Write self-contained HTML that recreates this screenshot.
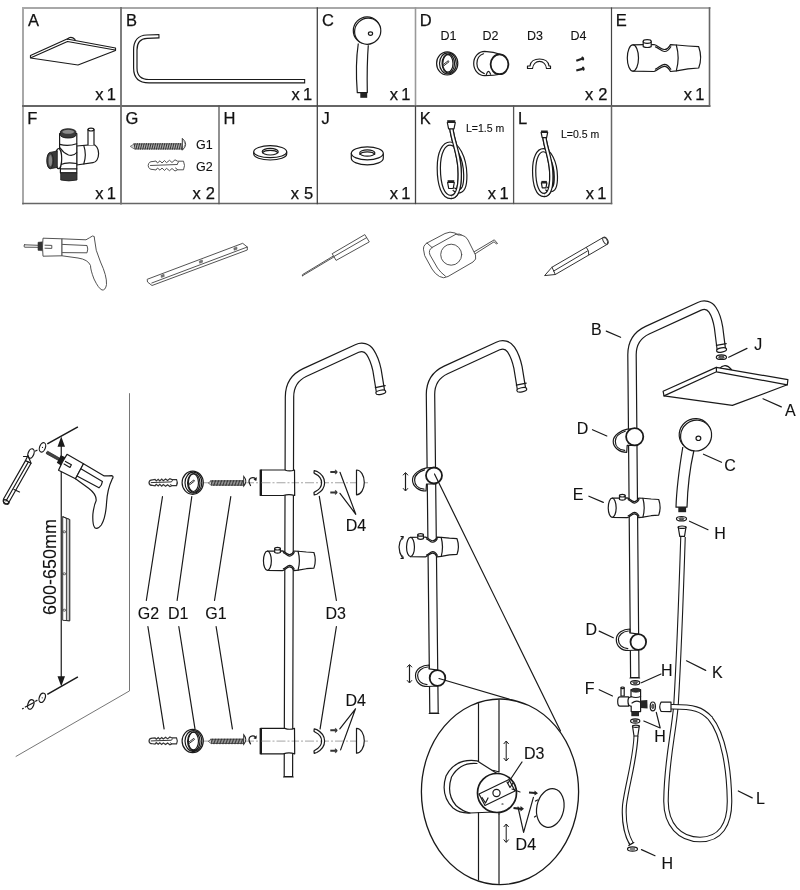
<!DOCTYPE html>
<html><head><meta charset="utf-8">
<style>
html,body{margin:0;padding:0;background:#fff;width:800px;height:890px;overflow:hidden}
svg{display:block;position:absolute;left:0;top:0;will-change:transform}
text{font-family:"Liberation Sans",sans-serif;fill:#111;stroke:#111;stroke-width:0.12}
.lb text{stroke-width:0.25}
.sm text{stroke-width:0.1}
.k{fill:none;stroke:#1a1a1a;stroke-width:1.2;stroke-linejoin:round;stroke-linecap:round}
.w{fill:#fff;stroke:#1a1a1a;stroke-width:1.2;stroke-linejoin:round}
.g{fill:none;stroke:#4a4a4a;stroke-width:0.95;stroke-linejoin:round;stroke-linecap:round}
.gw{fill:#fff;stroke:#4a4a4a;stroke-width:0.95;stroke-linejoin:round}
.lb{font-size:16.5px}
.sm{font-size:12.5px}
.md{font-size:16px}
#slider *,#hoseK .w{vector-effect:non-scaling-stroke}
.tb{fill:none;stroke:#1a1a1a;stroke-width:9.6;stroke-linejoin:round}
.tw{fill:none;stroke:#fff;stroke-width:7.2;stroke-linejoin:round}
.dash{fill:none;stroke:#9a9a9a;stroke-width:0.9;stroke-dasharray:9,2,2,2}
</style></head>
<body>
<svg width="800" height="890" viewBox="0 0 800 890">
<!-- ===== GRID ===== -->
<g id="grid" stroke-linecap="square">
  <line x1="23" y1="8" x2="709.5" y2="8" stroke="#a8a8a8" stroke-width="2"/>
  <line x1="23" y1="8" x2="23" y2="203.5" stroke="#a8a8a8" stroke-width="2"/>
  <line x1="23" y1="106" x2="709.5" y2="106" stroke="#666" stroke-width="1.8"/>
  <line x1="23" y1="203.5" x2="611.5" y2="203.5" stroke="#666" stroke-width="1.6"/>
  <line x1="121" y1="8" x2="121" y2="203.5" stroke="#707070" stroke-width="1.8"/>
  <line x1="317.3" y1="8" x2="317.3" y2="203.5" stroke="#444" stroke-width="1.3"/>
  <line x1="415.5" y1="8" x2="415.5" y2="106" stroke="#999" stroke-width="1.6"/>
  <line x1="415.5" y1="106" x2="415.5" y2="203.5" stroke="#444" stroke-width="1.3"/>
  <line x1="611.5" y1="8" x2="611.5" y2="106" stroke="#444" stroke-width="1.2"/>
  <line x1="611.5" y1="106" x2="611.5" y2="203.5" stroke="#666" stroke-width="1.5"/>
  <line x1="709.5" y1="8" x2="709.5" y2="106" stroke="#666" stroke-width="1.6"/>
  <line x1="219" y1="106" x2="219" y2="203.5" stroke="#555" stroke-width="1.3"/>
  <line x1="513.6" y1="106" x2="513.6" y2="203.5" stroke="#555" stroke-width="1.3"/>
</g>
<!-- cell letters -->
<g class="lb">
  <text x="28" y="25.6">A</text>
  <text x="126" y="25.6">B</text>
  <text x="322" y="25.8">C</text>
  <text x="419.8" y="25.6">D</text>
  <text x="615.7" y="25.6">E</text>
  <text x="27.2" y="123.9">F</text>
  <text x="125.5" y="124">G</text>
  <text x="223.5" y="124.2">H</text>
  <text x="321.5" y="124.2">J</text>
  <text x="419.7" y="123.8">K</text>
  <text x="518" y="124">L</text>
</g>
<g class="lb" text-anchor="end">
  <text x="103.4" y="100.0">x</text><text x="116.0" y="100.0">1</text>
  <text x="299.7" y="100.0">x</text><text x="312.3" y="100.0">1</text>
  <text x="397.9" y="100.0">x</text><text x="410.5" y="100.0">1</text>
  <text x="593.3" y="100.0">x</text><text x="607.5" y="100.0">2</text>
  <text x="691.9" y="100.0">x</text><text x="704.5" y="100.0">1</text>
  <text x="103.4" y="198.5">x</text><text x="116.0" y="198.5">1</text>
  <text x="200.8" y="198.5">x</text><text x="215.0" y="198.5">2</text>
  <text x="299.1" y="198.5">x</text><text x="313.3" y="198.5">5</text>
  <text x="397.9" y="198.5">x</text><text x="410.5" y="198.5">1</text>
  <text x="496.0" y="198.5">x</text><text x="508.6" y="198.5">1</text>
  <text x="593.9" y="198.5">x</text><text x="606.5" y="198.5">1</text>
</g>
<g class="sm">
  <text x="440.5" y="40">D1</text>
  <text x="482.5" y="40">D2</text>
  <text x="527" y="40">D3</text>
  <text x="570.5" y="40">D4</text>
  <text x="196" y="149">G1</text>
  <text x="196" y="171">G2</text>
</g>
<g style="font-size:10.5px">
  <text x="466" y="132">L=1.5 m</text>
  <text x="561" y="138">L=0.5 m</text>
</g>

<!-- ===== A head (cell) ===== -->
<g>
  <path class="w" d="M30.5,55.5 L67,39 L115.5,48 L115.5,50.5 L78,65 L30.5,58 Z"/>
  <path class="k" d="M31.5,57.5 L67.5,41.5 L115,50"/>
  <path class="k" d="M67.5,39 Q71,35.5 75,39.5"/>
</g>

<!-- ===== B rod ===== -->
<path d="M159.5,36.2 L147,36.7 Q135.3,37.2 135.3,50 L135.3,68 Q135.3,81.2 149,81.2 L305.2,81.2" fill="none" stroke="#1a1a1a" stroke-width="4.6"/>
<path d="M158.4,36.25 L147,36.7 Q135.3,37.2 135.3,50 L135.3,68 Q135.3,81.2 149,81.2 L304.1,81.2" fill="none" stroke="#fff" stroke-width="2.2"/>

<!-- ===== C hand shower (cell) ===== -->
<g>
  <path class="w" d="M358.3,43.5 C355.8,60 356.3,80 357.3,92.6 L367.3,92.6 C367,76 367.3,58 368.3,45.2"/>
  <rect x="360.3" y="92.6" width="6.9" height="5.2" fill="#222"/>
  <ellipse class="w" cx="366.6" cy="30.1" rx="13.6" ry="13" transform="rotate(-45 366.6 30.1)"/>
  <ellipse class="w" cx="367.7" cy="31.2" rx="13.4" ry="12.8" transform="rotate(-45 367.7 31.2)"/>
  <ellipse class="k" cx="370.5" cy="33.6" rx="2.1" ry="1.8"/>
</g>

<!-- ===== D parts ===== -->
<g>
  <!-- D1 -->
  <ellipse class="w" cx="447.2" cy="63.4" rx="10.6" ry="11.6" stroke-width="1.4"/>
  <ellipse class="k" cx="447.9" cy="63.4" rx="8.4" ry="10.5"/>
  <ellipse class="k" cx="448.3" cy="63.6" rx="6.2" ry="9.4"/>
  <ellipse class="k" cx="447.9" cy="63.4" rx="5.1" ry="8.8"/>
  <path d="M443.2,64.6 L448.3,60.7 L449,61.8 L443.9,65.7 Z" fill="#fff" stroke="#1a1a1a" stroke-width="0.9"/>
  <!-- D2 -->
  <path class="w" d="M484.7,51.4 C492,51.6 497,53 502,54.8 L502,74 C497,75 490,75.6 484.7,75.6 A11,12.1 0 0 1 484.7,51.4 Z"/>
  <path class="k" d="M486.3,74.6 Q488.3,68.4 490.6,74.2"/>
  <path class="k" d="M483.5,53.8 C479,55.3 476.9,59.3 476.9,63.6 C476.9,68 479.2,71.8 484.3,73.6"/>
  <ellipse cx="499.5" cy="64.3" rx="8.9" ry="9.9" fill="#fff" stroke="#1a1a1a" stroke-width="1.8"/>
  <!-- D3 -->
  <path class="w" d="M527.5,68.5 L527.5,66 L530,66 C530.5,61.5 534.5,59 539.5,59 C544.5,59 548.5,61.5 549,66 L550.5,66 L550.5,68.5 L546.5,68.5 C546,64.2 543,61.4 539.5,61.4 C536,61.4 533,64.2 532.5,68.5 Z"/>
  <!-- D4 -->
  <path d="M576.3,60.8 L582,58.8 M576.3,70.5 L582.5,68.9" stroke="#222" stroke-width="2.2" fill="none"/>
  <ellipse cx="582.8" cy="58.5" rx="1.3" ry="2.1" transform="rotate(-20 582.8 58.5)" fill="#222"/>
  <ellipse cx="583.3" cy="68.6" rx="1.3" ry="2.1" transform="rotate(-15 583.3 68.6)" fill="#222"/>
</g>

<!-- ===== E slider (cell) ===== -->
<g id="slider">
  <path class="w" d="M633,44.9 L643.5,44.7 L654,44.5 C657.5,45.2 660.5,49.2 664.2,49.5 C667.3,49.7 669,47.3 670.5,44.6 L676.5,45 L688,46 L698.7,46.7 Q702.6,57.5 698.7,68 L688,68.8 L676.5,70.8 L670.5,71.5 C669,68.8 667.3,66.3 664.2,66.4 C660.5,66.6 657.5,70.6 654,71.5 L633,71.2 Z"/>
  <ellipse class="w" cx="632.9" cy="58" rx="5.6" ry="13.1"/>
  <path class="k" d="M676.3,45 Q680,58 676.3,70.8"/>
  <path class="k" d="M655.5,46.9 C658.5,47.8 661,51.3 664.3,51.5 C667.3,51.6 669.3,49.3 670.8,46.7 M655.5,69.1 C658.5,68.2 661,64.5 664.3,64.3 C667.3,64.3 669.3,66.7 670.8,69.3"/>
  <path class="w" d="M643.2,41.5 L643.2,46.6 Q647.2,48.4 651.2,46.6 L651.2,41.5 Z"/>
  <ellipse class="w" cx="647.2" cy="41.5" rx="4" ry="1.8"/>
</g>

<!-- ===== F diverter (cell) ===== -->
<g>
  <path class="w" d="M76.6,146 L93,144.6 A5.6,9 0 0 1 93,162.6 L76.6,165 Z"/>
  <path class="k" d="M83.8,145.6 Q86.8,154.5 83.8,164"/>
  <path class="w" d="M88,145 L88,129.6 L94,129.6 L94,145"/>
  <ellipse class="w" cx="91" cy="129.6" rx="3" ry="1.4"/>
  <path class="w" d="M59.6,133.5 L76.8,133.5 L76.8,172.8 L60.4,172.8 L60.4,165 L59.6,150 Z"/>
  <path class="k" d="M59.7,144.4 Q68,146.8 76.7,143.8 M60.2,148 Q63.5,153 68.5,155 Q73.5,156.5 76.7,152.5 M61,164.5 Q66,162 76.7,163.5 M60.6,168.8 L76.8,168.8"/>
  <ellipse class="w" cx="58.6" cy="158.6" rx="3.1" ry="10.1"/>
  <path d="M57.3,150.9 L50.2,152.4 A3.4,8.2 0 0 0 50.2,168.8 L57.3,167.4 Z" fill="#3a3a3a" stroke="#1a1a1a" stroke-width="0.8"/>
  <ellipse cx="50.2" cy="160.6" rx="3.1" ry="7.8" fill="#4a4a4a" stroke="#1a1a1a" stroke-width="0.8"/>
  <ellipse cx="50.4" cy="160.6" rx="1.7" ry="5.6" fill="#8a8a8a"/>
  <path d="M60.4,131.8 A7.7,3 0 0 1 75.9,131.8 L75.9,135 A7.7,3 0 0 1 60.4,135 Z" fill="#3a3a3a" stroke="#1a1a1a" stroke-width="0.9"/>
  <ellipse cx="68.2" cy="131.8" rx="6" ry="2" fill="#8a8a8a"/>
  <path d="M60.7,172.8 L77,172.8 L77,180 Q68.8,181.8 60.7,180 Z" fill="#3a3a3a" stroke="#1a1a1a" stroke-width="0.8"/>
</g>

<!-- ===== G screw & anchor ===== -->
<g>
  <path d="M130.2,146.4 L134,144 L182.3,143.8 L182.3,149 L134,148.8 Z" fill="#d0d0d0" stroke="#555" stroke-width="0.7"/>
  <path d="M134.00,143.1 L135.30,149.7 M135.78,143.1 L137.08,149.7 M137.56,143.1 L138.86,149.7 M139.34,143.1 L140.64,149.7 M141.12,143.1 L142.42,149.7 M142.90,143.1 L144.20,149.7 M144.68,143.1 L145.98,149.7 M146.46,143.1 L147.76,149.7 M148.24,143.1 L149.54,149.7 M150.02,143.1 L151.32,149.7 M151.80,143.1 L153.10,149.7 M153.58,143.1 L154.88,149.7 M155.36,143.1 L156.66,149.7 M157.14,143.1 L158.44,149.7 M158.92,143.1 L160.22,149.7 M160.70,143.1 L162.00,149.7 M162.48,143.1 L163.78,149.7 M164.26,143.1 L165.56,149.7 M166.04,143.1 L167.34,149.7 M167.82,143.1 L169.12,149.7 M169.60,143.1 L170.90,149.7 M171.38,143.1 L172.68,149.7 M173.16,143.1 L174.46,149.7 M174.94,143.1 L176.24,149.7 M176.72,143.1 L178.02,149.7 M178.50,143.1 L179.80,149.7 M180.28,143.1 L181.58,149.7 " stroke="#2a2a2a" stroke-width="0.95" fill="none"/>
  <path d="M182.3,138.4 Q189,144.2 182.3,150.2 Z" fill="#fff" stroke="#333" stroke-width="1"/>
  <path d="M183.8,141 Q186.3,144.2 183.8,147.5" stroke="#666" stroke-width="0.6" fill="none"/>
  <path class="gw" stroke-width="0.9" d="M148.2,165.5 Q148.5,161.3 153,161.5 L156,161 L157.5,163 L160,160.8 L162,163 L164.5,160.5 L166.5,162.7 L169.5,160.3 L172,162.5 L175,159.8 L177.5,161.2 L183.5,161.2 Q185.5,165.5 183.5,169.8 L177.5,169.8 L175,171 L172,168.5 L169.5,170.7 L166.5,168.3 L164.5,170.5 L162,168 L160,170.2 L157.5,168 L156,170 L153,169.5 Q148.5,169.7 148.2,165.5 Z"/>
  <path class="g" d="M150.5,165.5 L177,164.5 M177,164.5 L178.5,162 M175.5,168 L177.5,169.5"/>
</g>

<!-- ===== H & J washers ===== -->
<g>
 <g transform="translate(0.2,1.4)">
  <path class="w" d="M253.5,150.3 L253.5,152.6 A16.5,6 0 0 0 286.5,152.6 L286.5,150.3"/>
  <ellipse class="w" cx="270" cy="150.3" rx="16.5" ry="6"/>
  <ellipse class="w" cx="270" cy="150.3" rx="8" ry="3.3"/>
  <path class="k" d="M262.4,151.3 A8,3.3 0 0 1 277.6,151.3"/>
  </g>
 <g transform="translate(0,1.8)">
  <path class="w" d="M351.3,151.5 L351.3,156.5 A16,6.5 0 0 0 383.3,156.5 L383.3,151.5"/>
  <ellipse class="w" cx="367.3" cy="151.5" rx="16" ry="6.5"/>
  <ellipse class="w" cx="367.3" cy="151.2" rx="7.6" ry="3.2"/>
  <path class="k" d="M359.9,152.6 A7.6,3.2 0 0 1 374.7,152.6"/>
</g>
</g>

<!-- ===== K & L hoses ===== -->
<g id="hoseK">
  <path id="hk" d="M451.4,128.5 C452.5,140 458.5,152 459.5,168 C460.5,183 458.5,196.5 451.5,197 C443,197.5 438.8,185 438.8,168 C438.8,152 444,143.6 450,143.6 C457,143.6 465,157 465.3,175 C465.5,187 463,191.5 457.5,191.5 L453.5,189" fill="none" stroke="#1a1a1a" stroke-width="4.4" vector-effect="non-scaling-stroke"/>
  <path d="M451.4,128.5 C452.5,140 458.5,152 459.5,168 C460.5,183 458.5,196.5 451.5,197 C443,197.5 438.8,185 438.8,168 C438.8,152 444,143.6 450,143.6 C457,143.6 465,157 465.3,175 C465.5,187 463,191.5 457.5,191.5 L453.5,189" fill="none" stroke="#fff" stroke-width="2" vector-effect="non-scaling-stroke"/>
  <path d="M451.4,128.5 C452.5,140 458.5,152 459.5,168 C460.5,183 458.5,196.5 451.5,197" fill="none" stroke="#1a1a1a" stroke-width="4.4" vector-effect="non-scaling-stroke"/>
  <path d="M451.4,128.5 C452.5,140 458.5,152 459.5,168 C460.5,183 458.5,196.5 451.5,197" fill="none" stroke="#fff" stroke-width="2" vector-effect="non-scaling-stroke"/>
  <path class="w" d="M447.3,122.5 L455.3,122.5 L454,128.8 L448.6,128.8 Z"/>
  <rect x="447.2" y="120.2" width="8.1" height="2.6" fill="#222"/>
  <path class="w" d="M447.6,182.5 L454.3,182.5 L453.2,188.5 L448.7,188.5 Z"/>
  <rect x="447.6" y="180.2" width="6.7" height="2.5" fill="#222"/>
</g>
<use href="#hoseK" transform="translate(544.4,130.5) scale(0.82,0.84) translate(-451.3,-120.2)"/>

<!-- ===== TOOLS ROW ===== -->
<g>
  <!-- drill -->
  <path class="g" d="M24.5,244.8 L38.5,245.3 L38.5,247.3 L24.5,247.2 Q23.3,246 24.5,244.8 Z"/>
  <path d="M38,242.3 L43,241.8 L43,250.8 L38,250.3 Z" fill="#333" stroke="#333" stroke-width="0.6"/>
  <path class="gw" d="M43,238.2 Q42,247 43,256.2 L62,255.8 L62,238.8 Z"/>
  <path class="g" d="M45,245.2 L51.8,245.4 L51.8,248.4 L45,248.2"/>
  <path class="gw" d="M62,238.8 L86,239.8 Q90,237.5 92.5,236 Q95,235.5 94.5,239 Q95,250 100.5,262 Q107,276 106.5,284.5 Q105.5,290.5 102,290 Q98.5,288.5 94,279 Q90.5,270 90.5,265.5 Q88,259.5 78,258 L62,255.8 Z"/>
  <path class="g" d="M62.5,244.4 L87,245.5 Q88.5,249 87,252.8 L62.5,252.6"/>
  <!-- level -->
  <path class="gw" d="M147.2,279.3 L242.7,243.3 L247.3,247 L247.3,250 L152,285.5 L147.5,282 Z"/>
  <path class="g" d="M151.8,283 L247.3,247"/>
  <path d="M161,275.3 L164,274.2 L164.3,276.5 L161.3,277.5 Z M199.3,261 L202.3,259.9 L202.6,262.2 L199.6,263.3 Z M233.8,248 L236.8,246.9 L237.1,249.2 L234.1,250.3 Z" fill="#777" stroke="#555" stroke-width="0.5"/>
  <!-- screwdriver -->
  <path class="g" d="M302.4,275.8 L333.5,257.2 M302.4,275.8 Q301.8,274.5 303,274.3 L333,256.2"/>
  <path class="gw" d="M332.2,253.7 L364.8,234.6 L369.3,241.9 L336.1,260.4 Z"/>
  <path class="g" d="M333.8,256.6 L366.7,237.6"/>
  <!-- tape -->
  <path class="g" d="M473.5,252.2 L494.3,239.8 L497.5,243.5 L496.3,243.8 L494,241.8 L474.5,254.2"/>
  <path class="gw" d="M424,252 Q422,246 427,243 L445,233.5 Q450,231 455,233 L458,235 L461.5,235 Q466,236 468,240 L475.5,255 Q477,259.5 473,262 L448,276.5 Q443.5,279 439.5,276.5 Q435,274 432,269 L426.5,259 Q424,255.5 424,252 Z"/>
  <path class="g" d="M432,247.5 Q428,250 430,255 L437.5,268 Q440.5,272.5 445.5,276.3 M432,247.5 L456,234.2 Q460,233.5 461.5,235 M427,243 L432,247.5"/>
  <circle class="g" cx="451.2" cy="254.7" r="10.5"/>
  <!-- pencil -->
  <g style="stroke:#333;stroke-width:1">
  <path class="gw" style="stroke:#333;stroke-width:1" d="M544.6,275.6 L552,267.2 L603.3,237.4 Q608,238 607.6,244.1 L555.3,274.5 Z"/>
  <path class="g" style="stroke:#333;stroke-width:1" d="M552,267.2 L555.3,274.5 M553.8,271 L587.5,251 M586.5,247.5 Q589.5,251 588.8,254.7"/>
  <ellipse class="g" style="stroke:#333;stroke-width:1" cx="605.5" cy="240.7" rx="2.2" ry="3.8" transform="rotate(-30 605.5 240.7)"/>
  </g>
</g>

<!-- ===== LEFT WALL SCENE ===== -->
<g>
  <path d="M129.5,393.2 L129.5,690.9 L15.7,756.6" fill="none" stroke="#666" stroke-width="0.9"/>
  <!-- marker lines -->
  <path d="M47.3,443.9 L77.9,426.9 M47.3,694.4 L77.9,676.9" stroke="#1a1a1a" stroke-width="1.6" fill="none"/>
  <!-- vertical dimension arrow -->
  <line x1="61.25" y1="445" x2="61.25" y2="678" stroke="#1a1a1a" stroke-width="1.2"/>
  <path d="M61.25,436.5 L57.5,446.8 L65,446.8 Z M61.25,686.5 L57.5,676.2 L65,676.2 Z" fill="#1a1a1a"/>
  <!-- holes top -->
  <ellipse class="k" cx="42.5" cy="447.4" rx="2.9" ry="4.9" transform="rotate(20 42.5 447.4)"/>
  <ellipse class="k" cx="31" cy="453.5" rx="2.9" ry="4.9" transform="rotate(20 31 453.5)"/>
  <path class="k" d="M35.5,451 L37,450.2"/>
  <circle cx="42.5" cy="447.4" r="0.6" fill="#222"/><circle cx="42.2" cy="697.8" r="0.6" fill="#222"/>
  <!-- holes bottom -->
  <ellipse class="k" cx="42.2" cy="697.8" rx="2.9" ry="4.9" transform="rotate(20 42.2 697.8)"/>
  <ellipse class="k" cx="30.8" cy="704.5" rx="2.9" ry="4.9" transform="rotate(20 30.8 704.5)"/>
  <path class="k" d="M35.5,701.2 L37,700.4 M22.5,708.8 L23.3,708.4 M25.3,707 L33.5,702.7"/>
  <!-- pencil on wall -->
  <path class="w" d="M25.5,460.6 L31,463.3 L8.5,503 Q6,505 4,503.5 Q2.5,501.5 3.5,499 Z"/>
  <path class="k" d="M28.3,462 L6,501"/>
  <path class="k" d="M14,489.5 L19.5,492"/>
  <path class="k" d="M25.5,460.6 L28,455.5 L31,463.3 M27,456.5 L23.5,456.5"/>
  <ellipse class="k" cx="6.2" cy="502" rx="3" ry="1.8" transform="rotate(30 6.2 502)"/>
  <!-- drill on wall (rotated) -->
  <g transform="translate(47,452.5) rotate(28) translate(-24.5,-246)">
    <path d="M24.5,244.6 L38.5,245 L38.5,247.6 L24.5,247.4 Q23.3,246 24.5,244.6 Z" fill="#444" stroke="#222" stroke-width="0.7"/>
    <path d="M38,242 L43,241.5 L43,251 L38,250.5 Z" fill="#1a1a1a"/>
    <path class="w" d="M43,238.2 Q42,247 43,256.2 L62,255.8 L62,238.8 Z"/>
    <path class="k" d="M45,245.2 L51.8,245.4 L51.8,248.4 L45,248.2"/>
    <path class="w" d="M62,238.8 L86,239.8 Q90,237.5 92.5,236 Q95,235.5 94.5,239 Q95,250 100.5,262 Q107,276 106.5,284.5 Q105.5,290.5 102,290 Q98.5,288.5 94,279 Q90.5,270 90.5,265.5 Q88,259.5 78,258 L62,255.8 Z"/>
    <path class="k" d="M62.5,244.4 L87,245.5 Q88.5,249 87,252.8 L62.5,252.6"/>
  </g>
  <!-- level on wall -->
  <path d="M62.7,516.6 L62.7,620.3 L69.7,620.8 L69.7,519.5 Z" fill="#fff" stroke="#1a1a1a" stroke-width="0.9"/>
  <path d="M66.4,518.4 L66.4,620.5 L69.7,620.8 L69.7,519.5 Z" fill="#c8c8c8" stroke="#1a1a1a" stroke-width="0.8"/>
  <path d="M62.7,516.6 L66.4,518.4" stroke="#1a1a1a" stroke-width="0.8"/>
  <ellipse cx="64.3" cy="531.8" rx="1.4" ry="1" fill="none" stroke="#333" stroke-width="0.8"/>
  <ellipse cx="64.3" cy="573.8" rx="1.4" ry="1" fill="none" stroke="#333" stroke-width="0.8"/>
  <ellipse cx="64.3" cy="610.2" rx="1.4" ry="1" fill="none" stroke="#333" stroke-width="0.8"/>
  <text transform="translate(56.2,615) rotate(-90)" style="font-size:18px">600-650mm</text>
</g>

<!-- ===== EXPLODED VIEW (rail 1) ===== -->
<g>
  <!-- rail 1 tube -->
  <path class="tb" d="M288.4,777 L289.5,397.0 Q289.5,379.5 304.9,372.4 L357.0,348.5 C362.0,346.2 367.0,347.5 370.0,352.0 C373.0,356.5 375.5,363.0 377.0,370.0 L380.6,392.0"/>
  <path class="tw" d="M288.4,776 L289.5,397.0 Q289.5,379.5 304.9,372.4 L357.0,348.5 C362.0,346.2 367.0,347.5 370.0,352.0 C373.0,356.5 375.5,363.0 377.0,370.0 L380.4,391.0"/>
  <path class="k" d="M283.6,777 L293.2,777"/>
  <path class="k" d="M375.3,387.6 L385.2,385.6"/>
  <ellipse class="w" cx="380.8" cy="392.3" rx="5" ry="2.1" transform="rotate(-11 380.8 392.3)"/>

  <!-- slider on rail 1 -->
  <use href="#slider" transform="translate(267.4,560.8) scale(0.707,0.733) translate(-632.9,-58)"/>

  <!-- dashed centerlines -->
  <path class="dash" d="M200,482.75 L368,482.75 M200,741.1 L368,741.1"/>
</g>
<g id="brk">
  <!-- G2 anchor -->
  <g transform="translate(149,482.6) scale(0.78,0.7) translate(-148.2,-165.5)">
    <path d="M148.2,165.5 Q148.5,161.3 153,161.5 L156,161 L157.5,163 L160,160.8 L162,163 L164.5,160.5 L166.5,162.7 L169.5,160.3 L172,162.5 L175,159.8 L177.5,161.2 L183.5,161.2 Q185.5,165.5 183.5,169.8 L177.5,169.8 L175,171 L172,168.5 L169.5,170.7 L166.5,168.3 L164.5,170.5 L162,168 L160,170.2 L157.5,168 L156,170 L153,169.5 Q148.5,169.7 148.2,165.5 Z" fill="#fff" stroke="#333" stroke-width="1.2" vector-effect="non-scaling-stroke"/>
    <path d="M150.5,165.5 L177,164.5 M177,164.5 L178.5,162 M175.5,168 L177.5,169.5" fill="none" stroke="#333" stroke-width="1" vector-effect="non-scaling-stroke"/>
  </g>
  <!-- D1 ring -->
  <g transform="translate(-254.5,419.3)">
    <ellipse class="w" cx="447.2" cy="63.4" rx="10.6" ry="11.6" stroke-width="1.4"/>
    <ellipse class="k" cx="447.9" cy="63.4" rx="8.4" ry="10.5"/>
    <ellipse class="k" cx="448.3" cy="63.6" rx="6.2" ry="9.4"/>
    <ellipse class="k" cx="447.9" cy="63.4" rx="5.1" ry="8.8"/>
    <path d="M443.2,64.6 L448.3,60.7 L449,61.8 L443.9,65.7 Z" fill="#fff" stroke="#1a1a1a" stroke-width="0.9"/>
  </g>
  <!-- G1 screw -->
  <g transform="translate(208.3,483) scale(0.68,0.85) translate(-130.2,-146.4)">
    <path d="M130.2,146.4 L134,144 L182.3,143.8 L182.3,149 L134,148.8 Z" fill="#d0d0d0" stroke="#444" stroke-width="1"/>
    <path d="M134.00,143.1 L135.60,149.7 M136.20,143.1 L137.80,149.7 M138.40,143.1 L140.00,149.7 M140.60,143.1 L142.20,149.7 M142.80,143.1 L144.40,149.7 M145.00,143.1 L146.60,149.7 M147.20,143.1 L148.80,149.7 M149.40,143.1 L151.00,149.7 M151.60,143.1 L153.20,149.7 M153.80,143.1 L155.40,149.7 M156.00,143.1 L157.60,149.7 M158.20,143.1 L159.80,149.7 M160.40,143.1 L162.00,149.7 M162.60,143.1 L164.20,149.7 M164.80,143.1 L166.40,149.7 M167.00,143.1 L168.60,149.7 M169.20,143.1 L170.80,149.7 M171.40,143.1 L173.00,149.7 M173.60,143.1 L175.20,149.7 M175.80,143.1 L177.40,149.7 M178.00,143.1 L179.60,149.7 M180.20,143.1 L181.80,149.7 " stroke="#2a2a2a" stroke-width="1.2" fill="none"/>
    <path d="M182.3,138.6 Q188.5,144.3 182.3,150 Z" fill="#fff" stroke="#222" stroke-width="1.4"/>
  </g>
  <!-- rotation arrow -->
  <path class="k" d="M250.5,485.5 Q247.5,480.5 250.5,478.2 Q253.5,476.5 255.8,479" stroke-width="1"/>
  <path d="M256.8,477 L256.3,481 L253.5,479.8 Z" fill="#1a1a1a"/>
  <!-- bracket block -->
  <path class="w" d="M260.8,470 L284.8,470 Q289.5,471.8 294.5,470 L294.7,495.5 Q289,493.7 283.3,495.5 L260.8,495.5 Z"/>
  <path d="M260.8,469.6 L260.8,495.9" stroke="#1a1a1a" stroke-width="2.4"/>
  <path class="dash" d="M261.5,482.75 L294,482.75"/>
  <!-- D3 clip -->
  <path class="w" stroke-width="1.3" d="M314.2,470.6 L316.8,471.3 Q324.6,475.5 324.6,482.75 Q324.6,490 316.8,494.2 L314.2,495 L314,492.6 L315.3,491.6 Q321.6,488.5 321.6,482.75 Q321.6,477 315.3,473.9 L314,472.9 Z"/>
  <!-- D4 screws -->
  <path d="M330.3,472 L335.5,472 M330.3,492.4 L335.5,492.4" stroke="#333" stroke-width="2"/>
  <path d="M335.3,469.9 Q339.2,472 335.3,474.1 Z M335.3,490.3 Q339.2,492.4 335.3,494.5 Z" fill="#333" stroke="#333" stroke-width="0.6"/>
  <!-- dome cap -->
  <path class="w" d="M356.5,470 A7.8,12.4 0 0 1 356.5,494.8 Z"/>
</g>
<use href="#brk" transform="translate(0,258.35)"/>
<!-- rail 1 tube segments above brackets are drawn; redraw tube visible between blocks handled by order -->
<g>
  <!-- leaders -->
  <path class="k" stroke-width="1" d="M162.5,496.5 L146.3,600.5 M147.9,626.5 L164.1,728.9 M191.8,496.5 L177.1,600.5 M178.8,626.5 L195,728.9 M230.8,496.5 L214.5,600.5 M216.1,626.5 L232.4,728.9 M319.3,496.3 L336.4,600.5 M336.4,626.5 L320.1,728.9"/>
  <path class="k" stroke-width="1" d="M340,472.3 L355.8,514.3 L340,493.3 M339.8,728.9 L355.5,708.8 L340.6,749.9"/>
  <text class="md" x="137.8" y="619">G2</text>
  <text class="md" x="168" y="619">D1</text>
  <text class="md" x="205.3" y="619">G1</text>
  <text class="md" x="325.5" y="619">D3</text>
  <text class="md" x="345.8" y="530.8">D4</text>
  <text class="md" x="345.5" y="706">D4</text>
</g>

<!-- ===== RAIL 2 ===== -->
<g>
  <path class="tb" d="M434,713.5 L430.5,394.5 Q430.5,377.0 445.9,369.9 L498.0,346.0 C503.0,343.7 508.0,345.0 511.0,349.5 C514.0,354.0 516.5,360.5 518.0,367.5 L521.6,389.5"/>
  <path class="tw" d="M434,712.5 L430.5,394.5 Q430.5,377.0 445.9,369.9 L498.0,346.0 C503.0,343.7 508.0,345.0 511.0,349.5 C514.0,354.0 516.5,360.5 518.0,367.5 L521.4,388.5"/>
  <path class="k" d="M429.2,713.5 L438.8,713.5"/>
  <path class="k" d="M516.3,385.1 L526.2,383.1"/>
  <ellipse class="w" cx="521.8" cy="389.8" rx="5" ry="2.1" transform="rotate(-11 521.8 389.8)"/>
  <use href="#slider" transform="translate(410.5,547) scale(0.707,0.733) translate(-632.9,-58)"/>
  <!-- holder upper (body down) -->
  <g transform="translate(434,475.5)">
<path class="w" d="M-7.5,-7.6 C-13,-6.6 -21.5,-2 -21.5,4.5 C-21.5,11 -15,15.5 -8,15.5 L-7.5,8.5 L2,8.5 L2,-8 Z"/>
    <path class="k" d="M-9.5,-5.6 C-15,-3.8 -19.4,-0.5 -19.4,4.5 C-19.4,9.8 -15.5,13.2 -10,13.6"/>
    <circle r="8" fill="#fff" stroke="#1a1a1a" stroke-width="1.8"/>
  </g>
  <!-- holder lower (body up) -->
  <g transform="translate(437.5,678)">
<path class="w" d="M-8.5,-13 C-15,-13 -22,-9 -22,-2.5 C-22,4 -17,8.5 -10,8.5 L0,8 L0,-8 L-8.5,-9.2 Z"/>
    <path class="k" d="M-10,-11 C-15.5,-10.5 -19.9,-7 -19.9,-2.5 C-19.9,2.5 -16,6.3 -10.5,6.6"/>
    <circle r="7.8" fill="#fff" stroke="#1a1a1a" stroke-width="1.8"/>
  </g>
  <!-- arrows -->
  <path class="k" d="M405.5,473.5 L405.5,490" stroke-width="1"/>
  <path d="M403,475.3 L405.5,472.5 L408,475.3 M403,488.2 L405.5,491 L408,488.2" fill="none" stroke="#1a1a1a" stroke-width="1"/>
  <path class="k" d="M409.5,665.5 L409.5,682" stroke-width="1"/>
  <path d="M407,667.3 L409.5,664.5 L412,667.3 M407,680.2 L409.5,683 L412,680.2" fill="none" stroke="#1a1a1a" stroke-width="1"/>
  <path class="k" stroke-width="1" d="M402.5,537 Q395.5,547 402.5,558"/>
  <path d="M400.5,536.5 L403.5,536.5 L402.5,539.5 M400.5,558.5 L403.5,558.5 L402.5,555.5" fill="none" stroke="#1a1a1a" stroke-width="1"/>
</g>

<!-- ===== MAGNIFIER ===== -->
<g>
  <path class="k" d="M434.5,474 L560.5,731 M439,678.5 L512,700" stroke-width="1.1"/>
  <ellipse cx="500" cy="791.8" rx="78.6" ry="92.8" fill="#fff" stroke="#1a1a1a" stroke-width="1.3"/>
  <clipPath id="mc"><ellipse cx="500" cy="791.8" rx="78" ry="92.2"/></clipPath>
  <g clip-path="url(#mc)">
    <path class="k" d="M478.5,690 L478.5,772 Q489,768 499,772 L499,690 M478.5,900 L478.5,814 M499,900 L499,814"/>
  </g>
  <!-- magnified holder -->
  <path class="w" d="M497,773.5 L477,760.8 Q455,758 446,776 Q440,795 453,808 Q460,813.5 470,813 L494,812 Z"/>
  <path class="k" d="M477,763.5 Q460,762 451.5,777 Q446,794 456,805.5 Q462,811 470,813"/>
  <circle cx="497" cy="793" r="19.5" fill="#fff" stroke="#1a1a1a" stroke-width="1.7"/>
  <path class="k" d="M478.5,814 L478.5,812.5 M499,812.8 L499,814"/>
  <!-- D3 inside -->
  <path class="k" d="M479,794 L509,779.5 L515,791 L485,805.5 Z" stroke-width="1.1"/>
  <circle class="k" cx="496.5" cy="793" r="3.6" stroke-width="1.1"/>
  <path class="k" d="M507,782 L510,787.5 L513,783 M482,797.5 L485.5,803 L488,798" stroke-width="0.9"/>
  <path class="k" d="M512,789 L520,792 M502,804 L503,804" stroke-width="0.9"/>
  <!-- D4 screws -->
  <path d="M529,792.5 L535,793 M513.5,808 L521,808.8" stroke="#222" stroke-width="2.2"/>
  <path d="M534.5,790.5 L538,793.2 L534.5,795.5 Z M520.5,806 L524,808.8 L520.5,811.5 Z" fill="#222"/>
  <!-- cap -->
  <ellipse class="w" cx="550.3" cy="808" rx="13.5" ry="19.5" transform="rotate(12 550.3 808)"/>
  <path class="k" d="M537.5,800 L535.5,801 M536,816 L534.5,817" stroke-width="0.9"/>
  <!-- arrows -->
  <path d="M506.2,741.5 L506.2,760.5 M503.7,744 L506.2,741 L508.7,744 M503.7,758 L506.2,761 L508.7,758 M506.2,824.5 L506.2,842 M503.7,827 L506.2,824 L508.7,827 M503.7,839.5 L506.2,842.5 L508.7,839.5" fill="none" stroke="#1a1a1a" stroke-width="1"/>
  <!-- leaders -->
  <path class="k" stroke-width="1" d="M522,762 L508,783 M518,807 L523.6,832.4 L533.4,797.3"/>
  <text class="md" x="524" y="759">D3</text>
  <text class="md" x="515.6" y="850.3">D4</text>
</g>

<!-- ===== RIGHT ASSEMBLY ===== -->
<g>
  <!-- hoses K loop (behind) -->
  <path d="M683,537 C681,600 678.7,660 676,705 C673.5,735 666.5,760 666,800 C665.5,825 680,839.5 700,839.5 C720,839.5 730,825 729.5,800 C729,770 724,735 710,718" fill="none" stroke="#1a1a1a" stroke-width="5.6"/>
  <path d="M683,537 C681,600 678.7,660 676,705 C673.5,735 666.5,760 666,800 C665.5,825 680,839.5 700,839.5 C720,839.5 730,825 729.5,800 C729,770 724,735 710,718" fill="none" stroke="#fff" stroke-width="3.4"/>
  <path d="M710.5,718.5 C702,709 694,706.5 670,706.8" fill="none" stroke="#1a1a1a" stroke-width="5.6"/>
  <path d="M711,719 C702,709 694,706.5 670,706.8" fill="none" stroke="#fff" stroke-width="3.4"/>
  <!-- L hose left -->
  <path d="M636,736 C635,760 627,785 624.5,805 C623,825 628,838 631.4,844" fill="none" stroke="#1a1a1a" stroke-width="5"/>
  <path d="M636,735 C635,760 627,785 624.5,805 C623,825 628,838 631.5,843.3" fill="none" stroke="#fff" stroke-width="2.8"/>
  <path class="k" d="M628.8,845.5 L633.8,842.5"/>
  <!-- connectors -->
  <path class="w" d="M661,702.2 L671,702 L671,711.6 L661,711.3 Q658.5,706.8 661,702.2 Z"/>
  <path class="w" d="M632.5,726 L639.3,726 L637.8,736 L634,736 Z"/>
  <path class="w" d="M678.2,527 L686,527 L684.5,536.4 L679.8,536.4 Z"/>
  <ellipse class="w" cx="682.1" cy="527.2" rx="3.9" ry="1.2"/>
  <ellipse class="w" cx="635.9" cy="726.2" rx="3.4" ry="1.1"/>

  <!-- rail 3 -->
  <path class="tb" d="M634.8,678 L632.0,354.8 Q632.0,337.3 647.4,330.2 L699.5,306.3 C704.5,304.0 709.5,305.3 712.5,309.8 C715.5,314.3 717.5,320.8 718.6,327.8 L721.4,349.8"/>
  <path class="tw" d="M634.8,677 L632.0,354.8 Q632.0,337.3 647.4,330.2 L699.5,306.3 C704.5,304.0 709.5,305.3 712.5,309.8 C715.5,314.3 717.5,320.8 718.6,327.8 L721.2,348.8"/>
  <path class="k" d="M630,678 L639.6,678"/>
  <path class="k" d="M716.4,345.3 L726.2,343.6"/>
  <ellipse class="w" cx="721.6" cy="350" rx="5" ry="2.1" transform="rotate(-9 721.6 350)"/>
  <use href="#slider" transform="translate(612.2,507.8) scale(0.707,0.733) translate(-632.9,-58)"/>
  <g transform="translate(634.7,436.8)">
<path class="w" d="M-7.5,-7.6 C-13,-6.6 -21.5,-2 -21.5,4.5 C-21.5,11 -15,15.5 -8,15.5 L-7.5,8.5 L2,8.5 L2,-8 Z"/>
    <path class="k" d="M-9.5,-5.6 C-15,-3.8 -19.4,-0.5 -19.4,4.5 C-19.4,9.8 -15.5,13.2 -10,13.6"/>
    <circle r="8.6" fill="#fff" stroke="#1a1a1a" stroke-width="1.8"/>
  </g>
  <g transform="translate(638.3,642)">
<path class="w" d="M-8.5,-13 C-15,-13 -22,-9 -22,-2.5 C-22,4 -17,8.5 -10,8.5 L0,8 L0,-8 L-8.5,-9.2 Z"/>
    <path class="k" d="M-10,-11 C-15.5,-10.5 -19.9,-7 -19.9,-2.5 C-19.9,2.5 -16,6.3 -10.5,6.6"/>
    <circle r="7.8" fill="#fff" stroke="#1a1a1a" stroke-width="1.8"/>
  </g>

  <!-- J washer -->
  <ellipse class="w" cx="721.4" cy="357.2" rx="5.1" ry="2.3"/>
  <ellipse cx="721.4" cy="357.2" rx="2.8" ry="1.2" fill="#777" stroke="#1a1a1a" stroke-width="0.8"/>
  <!-- shower head A -->
  <path class="w" d="M719,369 Q725,362 731.6,369.6 Z"/>
  <path class="w" d="M663.1,391.2 L716.3,367.4 L787.9,379.6 L787.3,384.8 L732.4,405.4 L664,395.9 Z"/>
  <path class="k" d="M664,395.9 L716.5,371.8 L787.3,384.8 M716.3,367.4 L716.5,371.8"/>

  <!-- hand shower C -->
  <path class="w" d="M682.8,447 C679,470 676.5,490 676,507.2 L687,507.2 C687.5,490 689.5,470 693.8,451"/>
  <rect x="678.3" y="507" width="7.8" height="5.2" fill="#222"/>
  <ellipse class="w" cx="694.9" cy="434.2" rx="16" ry="15.3" transform="rotate(-40 694.9 434.2)"/>
  <ellipse class="w" cx="696.1" cy="435.6" rx="15.8" ry="15.1" transform="rotate(-40 696.1 435.6)"/>
  <ellipse class="k" cx="698.4" cy="438.3" rx="2.4" ry="2.2"/>
  <!-- H washers -->
  <ellipse class="w" cx="681.5" cy="518.7" rx="5" ry="2.2"/>
  <ellipse cx="681.5" cy="518.7" rx="2.6" ry="1" fill="#777" stroke="#1a1a1a" stroke-width="0.7"/>
  <ellipse class="w" cx="635.2" cy="682.7" rx="4.6" ry="2.1"/>
  <ellipse cx="635.2" cy="682.7" rx="2.4" ry="0.9" fill="#777" stroke="#1a1a1a" stroke-width="0.7"/>
  <ellipse class="w" cx="635.2" cy="721" rx="4.6" ry="2.1"/>
  <ellipse cx="635.2" cy="721" rx="2.4" ry="0.9" fill="#777" stroke="#1a1a1a" stroke-width="0.7"/>
  <ellipse class="w" cx="652.8" cy="706.4" rx="2.6" ry="4.4"/>
  <ellipse cx="652.8" cy="706.4" rx="1.1" ry="2.3" fill="#777" stroke="#1a1a1a" stroke-width="0.7"/>
  <ellipse class="w" cx="632.5" cy="849" rx="5" ry="2.2" stroke="#555"/>
  <ellipse cx="632.5" cy="849" rx="2.6" ry="1" fill="#999" stroke="#555" stroke-width="0.7"/>

  <!-- F diverter (assembled) -->
  <path class="w" d="M621,687.8 L621,696 L624.2,696 L624.2,687.8 Z"/>
  <ellipse class="w" cx="622.6" cy="687.8" rx="1.6" ry="0.8"/>
  <path class="w" d="M620,696.8 L628.5,696.8 L628.5,706.2 L620,706.2 A2.3,4.7 0 0 1 620,696.8 Z"/>
  <path class="w" d="M631,689.5 L640.6,689.5 L640.6,711.6 L631.2,711.6 L631.2,706 Q628,706.5 628,701 Q628,697 631,697 Z"/>
  <path class="k" d="M631,696.5 Q635.8,698.5 640.6,696.5 M632,703 Q636,700 640,702"/>
  <path d="M631.3,689.5 A4.8,1.7 0 0 1 640.4,689.5 L640.4,691 A4.8,1.7 0 0 1 631.3,691 Z" fill="#333" stroke="#1a1a1a" stroke-width="0.8"/>
  <path d="M640.6,700.5 L647.3,700 L647.6,708.4 L640.6,708 Z" fill="#262626"/>
  <path d="M631.3,711.6 L639,711.6 L639,716.2 L631.3,716.2 Z" fill="#262626"/>

  <!-- labels -->
  <g class="md">
    <text x="591" y="334.6">B</text>
    <text x="754.3" y="350">J</text>
    <text x="785" y="416">A</text>
    <text x="576.8" y="434.3">D</text>
    <text x="724.2" y="471.3">C</text>
    <text x="572.7" y="500.2">E</text>
    <text x="714.2" y="539">H</text>
    <text x="585.5" y="634.6">D</text>
    <text x="661" y="676.2">H</text>
    <text x="712" y="677.5">K</text>
    <text x="584.7" y="693.6">F</text>
    <text x="654.2" y="741.5">H</text>
    <text x="756" y="803.5">L</text>
    <text x="661.5" y="868.8">H</text>
  </g>
  <path class="k" stroke-width="1.1" d="M606.3,331.1 L620.6,337.3 M728.7,357.2 L747,348.4 M763,398.8 L781.3,406.9 M592.5,429.7 L606.8,436 M703.5,454.2 L721.5,462.3 M588.9,496.2 L603.3,502.4 M689.5,521.2 L708,529.7 M599.2,631.1 L613.3,637.8 M641.4,682.7 L661,674 M686.5,660.8 L705.7,670.4 M599.2,689.7 L612.5,696 M656.3,712.3 L660.2,728 L643.8,721 M738.3,791 L752.2,797.9 M641.5,849.6 L655,855.7"/>
</g>
</svg>
</body></html>
